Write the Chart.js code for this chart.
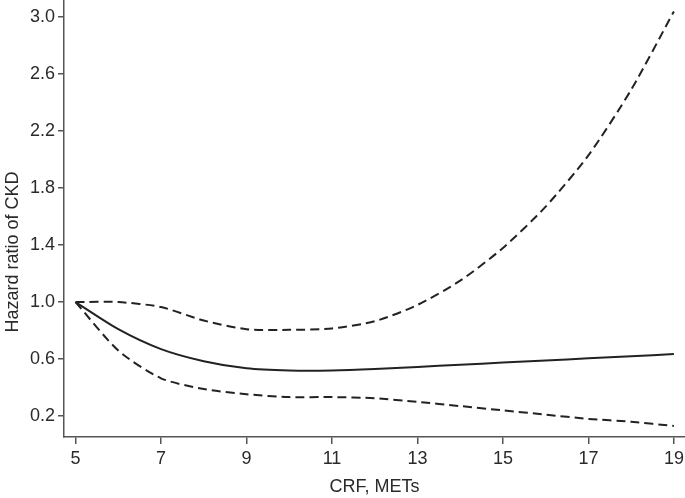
<!DOCTYPE html>
<html>
<head>
<meta charset="utf-8">
<script src="https://cdn.jsdelivr.net/npm/chart.js@4"></script>
<style>
  html, body { margin: 0; padding: 0; background: #fff; }
  #wrap { width: 685px; height: 498px; }
</style>
</head>
<body>
<div id="wrap"><canvas id="hr" width="685" height="498"></canvas></div>
<script>
// CRF (METs) knots and hazard ratio curves
const crf      = [5, 6, 7, 8, 9, 10, 11, 12, 13, 14, 15, 16, 17, 18, 19];
const hrMain   = [1.0, 0.81, 0.67, 0.585, 0.535, 0.52, 0.52, 0.53, 0.545, 0.56, 0.575, 0.59, 0.605, 0.62, 0.635];
const hrUpper  = [1.0, 1.0, 0.965, 0.87, 0.81, 0.805, 0.815, 0.865, 0.98, 1.15, 1.38, 1.67, 2.03, 2.49, 3.04];
const hrLower  = [1.0, 0.66, 0.465, 0.39, 0.353, 0.333, 0.333, 0.325, 0.3, 0.27, 0.24, 0.21, 0.18, 0.16, 0.13];
const xTicks   = [5, 7, 9, 11, 13, 15, 17, 19];
const yTicks   = [0.2, 0.6, 1.0, 1.4, 1.8, 2.2, 2.6, 3.0];
const yTitle   = 'Hazard ratio of CKD';

const INK = '#222';
const AXIS = '#555';
const TXT = '#2a2a2a';
const FONT = { family: 'Liberation Sans, Arial, sans-serif', size: 18 };

const pts = arr => crf.map((x, i) => ({ x, y: arr[i] }));

function series(data, dashed) {
  return {
    data: pts(data),
    borderColor: INK,
    borderWidth: 2,
    borderDash: dashed ? [9, 5] : [],
    pointRadius: 0,
    tension: 0.25,
    fill: false,
    clip: false,
  };
}

// y title drawn by hand so it sits where the original puts it
const yTitlePlugin = {
  id: 'yTitle',
  afterDraw(chart) {
    const ctx = chart.ctx;
    ctx.save();
    ctx.translate(13, 252);
    ctx.rotate(-Math.PI / 2);
    ctx.fillStyle = TXT;
    ctx.font = `${FONT.size}px ${FONT.family}`;
    ctx.textAlign = 'center';
    ctx.textBaseline = 'middle';
    ctx.fillText(yTitle, 0, 0);
    ctx.restore();
  },
};

// drop the half-label padding so the plot runs to the canvas edges
const noPad = s => { s.paddingTop = 0; s.paddingBottom = 0; s.paddingLeft = 0; s.paddingRight = 0; };

new Chart(document.getElementById('hr'), {
  type: 'line',
  data: {
    datasets: [
      series(hrMain, false),
      series(hrUpper, true),
      series(hrLower, true),
    ],
  },
  plugins: [yTitlePlugin],
  options: {
    responsive: false,
    animation: false,
    layout: { padding: 0 },
    plugins: { legend: { display: false }, tooltip: { enabled: false } },
    scales: {
      x: {
        type: 'linear',
        min: 4.73,
        max: 19.26,
        afterBuildTicks: s => { s.ticks = xTicks.map(v => ({ value: v })); },
        afterFit: s => { s.height = 61; noPad(s); },
        grid: { drawOnChartArea: false, drawTicks: true, tickLength: 7, color: AXIS, lineWidth: 1.5 },
        border: { display: true, color: AXIS, width: 1.5 },
        ticks: { color: TXT, font: FONT, padding: 4, maxRotation: 0, autoSkip: false,
                 callback: v => String(v) },
        title: { display: true, text: 'CRF, METs', color: TXT, font: FONT, padding: { top: 1, bottom: 0 } },
      },
      y: {
        type: 'linear',
        min: 0.053,
        max: 3.12,
        afterBuildTicks: s => { s.ticks = yTicks.map(v => ({ value: v })); },
        afterFit: s => { s.width = 64; noPad(s); },
        grid: { drawOnChartArea: false, drawTicks: true, tickLength: 6, color: AXIS, lineWidth: 1.5 },
        border: { display: true, color: AXIS, width: 1.5 },
        ticks: { color: TXT, font: FONT, padding: 3, autoSkip: false,
                 callback: v => v.toFixed(1) },
        title: { display: false },
      },
    },
  },
});
</script>
</body>
</html>
